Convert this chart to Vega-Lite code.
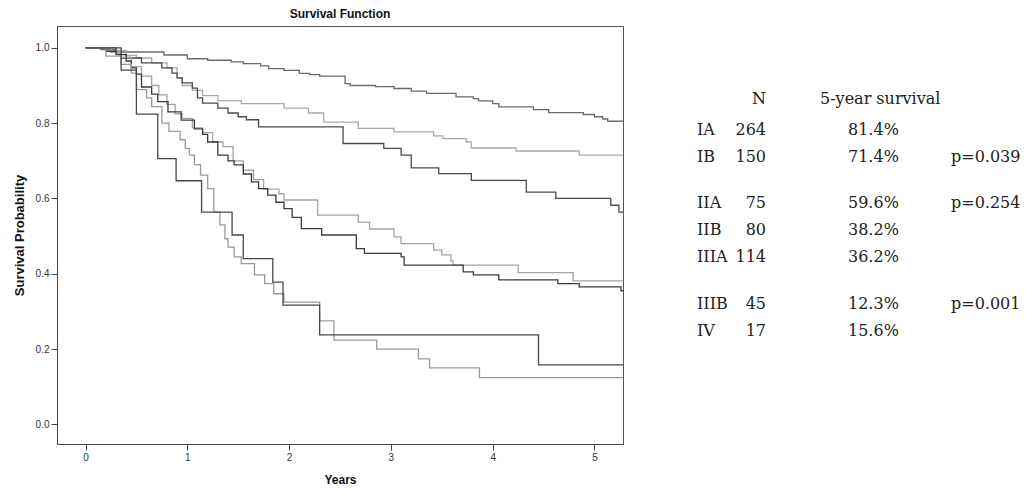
{
  "$schema": "https://vega.github.io/schema/vega-lite/v6.json",
  "padding": {"left": 0, "top": 7, "right": 0, "bottom": 0},
  "background": "white",
  "spacing": 18,
  "config": {"view": {"stroke": "#555", "strokeWidth": 1}, "font": "Liberation Sans"},
  "datasets": {
    "km": [
      {"stage":"IA","t":0,"s":1},{"stage":"IA","t":0.15,"s":0.995},{"stage":"IA","t":0.3,"s":0.989},{"stage":"IA","t":0.77,"s":0.981},{"stage":"IA","t":1.0,"s":0.971},{"stage":"IA","t":1.2,"s":0.967},{"stage":"IA","t":1.43,"s":0.963},{"stage":"IA","t":1.55,"s":0.958},{"stage":"IA","t":1.72,"s":0.952},{"stage":"IA","t":1.8,"s":0.945},{"stage":"IA","t":1.95,"s":0.94},{"stage":"IA","t":2.1,"s":0.932},{"stage":"IA","t":2.2,"s":0.929},{"stage":"IA","t":2.3,"s":0.925},{"stage":"IA","t":2.55,"s":0.905},{"stage":"IA","t":2.6,"s":0.9},{"stage":"IA","t":2.85,"s":0.897},{"stage":"IA","t":3.03,"s":0.892},{"stage":"IA","t":3.2,"s":0.885},{"stage":"IA","t":3.35,"s":0.879},{"stage":"IA","t":3.64,"s":0.87},{"stage":"IA","t":3.81,"s":0.865},{"stage":"IA","t":3.86,"s":0.859},{"stage":"IA","t":4.0,"s":0.852},{"stage":"IA","t":4.06,"s":0.843},{"stage":"IA","t":4.4,"s":0.836},{"stage":"IA","t":4.55,"s":0.828},{"stage":"IA","t":4.89,"s":0.823},{"stage":"IA","t":5.0,"s":0.817},{"stage":"IA","t":5.08,"s":0.811},{"stage":"IA","t":5.13,"s":0.805},{"stage":"IA","t":5.28,"s":0.805},
      {"stage":"IB","t":0,"s":1},{"stage":"IB","t":0.25,"s":0.993},{"stage":"IB","t":0.4,"s":0.98},{"stage":"IB","t":0.5,"s":0.973},{"stage":"IB","t":0.65,"s":0.96},{"stage":"IB","t":0.8,"s":0.947},{"stage":"IB","t":0.9,"s":0.92},{"stage":"IB","t":0.95,"s":0.9},{"stage":"IB","t":1.05,"s":0.887},{"stage":"IB","t":1.15,"s":0.873},{"stage":"IB","t":1.3,"s":0.86},{"stage":"IB","t":1.53,"s":0.852},{"stage":"IB","t":1.95,"s":0.84},{"stage":"IB","t":2.19,"s":0.827},{"stage":"IB","t":2.34,"s":0.803},{"stage":"IB","t":2.68,"s":0.786},{"stage":"IB","t":3.03,"s":0.777},{"stage":"IB","t":3.42,"s":0.766},{"stage":"IB","t":3.51,"s":0.759},{"stage":"IB","t":3.74,"s":0.75},{"stage":"IB","t":3.79,"s":0.734},{"stage":"IB","t":4.23,"s":0.726},{"stage":"IB","t":4.85,"s":0.715},{"stage":"IB","t":5.28,"s":0.715},
      {"stage":"IIA","t":0,"s":1},{"stage":"IIA","t":0.3,"s":0.987},{"stage":"IIA","t":0.35,"s":0.973},{"stage":"IIA","t":0.55,"s":0.96},{"stage":"IIA","t":0.75,"s":0.947},{"stage":"IIA","t":0.85,"s":0.933},{"stage":"IIA","t":0.9,"s":0.92},{"stage":"IIA","t":0.95,"s":0.907},{"stage":"IIA","t":1.05,"s":0.893},{"stage":"IIA","t":1.1,"s":0.867},{"stage":"IIA","t":1.15,"s":0.853},{"stage":"IIA","t":1.3,"s":0.84},{"stage":"IIA","t":1.4,"s":0.827},{"stage":"IIA","t":1.5,"s":0.817},{"stage":"IIA","t":1.58,"s":0.809},{"stage":"IIA","t":1.7,"s":0.79},{"stage":"IIA","t":2.53,"s":0.746},{"stage":"IIA","t":2.93,"s":0.733},{"stage":"IIA","t":3.1,"s":0.715},{"stage":"IIA","t":3.2,"s":0.681},{"stage":"IIA","t":3.47,"s":0.666},{"stage":"IIA","t":3.79,"s":0.648},{"stage":"IIA","t":4.33,"s":0.617},{"stage":"IIA","t":4.62,"s":0.6},{"stage":"IIA","t":5.16,"s":0.582},{"stage":"IIA","t":5.24,"s":0.564},{"stage":"IIA","t":5.28,"s":0.564},
      {"stage":"IIB","t":0,"s":1},{"stage":"IIB","t":0.25,"s":0.988},{"stage":"IIB","t":0.35,"s":0.975},{"stage":"IIB","t":0.45,"s":0.95},{"stage":"IIB","t":0.55,"s":0.925},{"stage":"IIB","t":0.65,"s":0.9},{"stage":"IIB","t":0.72,"s":0.875},{"stage":"IIB","t":0.8,"s":0.85},{"stage":"IIB","t":0.88,"s":0.825},{"stage":"IIB","t":0.95,"s":0.8125},{"stage":"IIB","t":1.05,"s":0.7875},{"stage":"IIB","t":1.15,"s":0.775},{"stage":"IIB","t":1.25,"s":0.75},{"stage":"IIB","t":1.35,"s":0.7375},{"stage":"IIB","t":1.45,"s":0.7},{"stage":"IIB","t":1.55,"s":0.675},{"stage":"IIB","t":1.65,"s":0.65},{"stage":"IIB","t":1.75,"s":0.625},{"stage":"IIB","t":1.9,"s":0.6125},{"stage":"IIB","t":1.95,"s":0.596},{"stage":"IIB","t":2.28,"s":0.556},{"stage":"IIB","t":2.68,"s":0.537},{"stage":"IIB","t":2.79,"s":0.519},{"stage":"IIB","t":3.03,"s":0.498},{"stage":"IIB","t":3.1,"s":0.48},{"stage":"IIB","t":3.42,"s":0.463},{"stage":"IIB","t":3.5,"s":0.45},{"stage":"IIB","t":3.59,"s":0.434},{"stage":"IIB","t":3.61,"s":0.423},{"stage":"IIB","t":4.25,"s":0.403},{"stage":"IIB","t":4.79,"s":0.381},{"stage":"IIB","t":5.28,"s":0.381},
      {"stage":"IIIA","t":0,"s":1},{"stage":"IIIA","t":0.2,"s":0.991},{"stage":"IIIA","t":0.3,"s":0.982},{"stage":"IIIA","t":0.4,"s":0.965},{"stage":"IIIA","t":0.45,"s":0.947},{"stage":"IIIA","t":0.5,"s":0.93},{"stage":"IIIA","t":0.55,"s":0.896},{"stage":"IIIA","t":0.65,"s":0.877},{"stage":"IIIA","t":0.71,"s":0.857},{"stage":"IIIA","t":0.81,"s":0.83},{"stage":"IIIA","t":0.94,"s":0.808},{"stage":"IIIA","t":1.07,"s":0.785},{"stage":"IIIA","t":1.15,"s":0.77},{"stage":"IIIA","t":1.2,"s":0.75},{"stage":"IIIA","t":1.3,"s":0.715},{"stage":"IIIA","t":1.4,"s":0.7},{"stage":"IIIA","t":1.46,"s":0.689},{"stage":"IIIA","t":1.55,"s":0.665},{"stage":"IIIA","t":1.63,"s":0.644},{"stage":"IIIA","t":1.7,"s":0.626},{"stage":"IIIA","t":1.79,"s":0.609},{"stage":"IIIA","t":1.87,"s":0.59},{"stage":"IIIA","t":1.95,"s":0.573},{"stage":"IIIA","t":2.03,"s":0.55},{"stage":"IIIA","t":2.12,"s":0.52},{"stage":"IIIA","t":2.32,"s":0.503},{"stage":"IIIA","t":2.66,"s":0.467},{"stage":"IIIA","t":2.74,"s":0.454},{"stage":"IIIA","t":3.1,"s":0.445},{"stage":"IIIA","t":3.13,"s":0.423},{"stage":"IIIA","t":3.71,"s":0.405},{"stage":"IIIA","t":3.81,"s":0.397},{"stage":"IIIA","t":4.06,"s":0.384},{"stage":"IIIA","t":4.64,"s":0.374},{"stage":"IIIA","t":4.85,"s":0.365},{"stage":"IIIA","t":5.26,"s":0.355},{"stage":"IIIA","t":5.28,"s":0.355},
      {"stage":"IIIB","t":0,"s":1},{"stage":"IIIB","t":0.2,"s":0.978},{"stage":"IIIB","t":0.35,"s":0.956},{"stage":"IIIB","t":0.45,"s":0.933},{"stage":"IIIB","t":0.5,"s":0.889},{"stage":"IIIB","t":0.6,"s":0.867},{"stage":"IIIB","t":0.65,"s":0.844},{"stage":"IIIB","t":0.75,"s":0.8},{"stage":"IIIB","t":0.82,"s":0.778},{"stage":"IIIB","t":0.93,"s":0.756},{"stage":"IIIB","t":0.98,"s":0.733},{"stage":"IIIB","t":1.02,"s":0.715},{"stage":"IIIB","t":1.07,"s":0.69},{"stage":"IIIB","t":1.13,"s":0.662},{"stage":"IIIB","t":1.2,"s":0.626},{"stage":"IIIB","t":1.26,"s":0.564},{"stage":"IIIB","t":1.32,"s":0.53},{"stage":"IIIB","t":1.37,"s":0.493},{"stage":"IIIB","t":1.4,"s":0.471},{"stage":"IIIB","t":1.46,"s":0.445},{"stage":"IIIB","t":1.53,"s":0.427},{"stage":"IIIB","t":1.66,"s":0.397},{"stage":"IIIB","t":1.76,"s":0.374},{"stage":"IIIB","t":1.85,"s":0.347},{"stage":"IIIB","t":1.95,"s":0.325},{"stage":"IIIB","t":2.3,"s":0.275},{"stage":"IIIB","t":2.44,"s":0.224},{"stage":"IIIB","t":2.86,"s":0.2},{"stage":"IIIB","t":3.27,"s":0.174},{"stage":"IIIB","t":3.38,"s":0.15},{"stage":"IIIB","t":3.87,"s":0.124},{"stage":"IIIB","t":5.28,"s":0.124},
      {"stage":"IV","t":0,"s":1},{"stage":"IV","t":0.35,"s":0.941},{"stage":"IV","t":0.5,"s":0.824},{"stage":"IV","t":0.71,"s":0.706},{"stage":"IV","t":0.89,"s":0.647},{"stage":"IV","t":1.14,"s":0.564},{"stage":"IV","t":1.44,"s":0.503},{"stage":"IV","t":1.55,"s":0.44},{"stage":"IV","t":1.84,"s":0.378},{"stage":"IV","t":1.94,"s":0.317},{"stage":"IV","t":2.3,"s":0.238},{"stage":"IV","t":4.45,"s":0.158},{"stage":"IV","t":5.28,"s":0.158}
    ],
    "table": [
      {"line":0,"col":1,"text":"N"},{"line":0,"col":2,"text":"5-year survival"},
      {"line":1,"col":0,"text":"IA"},{"line":1,"col":1,"text":"264"},{"line":1,"col":3,"text":"81.4%"},
      {"line":2,"col":0,"text":"IB"},{"line":2,"col":1,"text":"150"},{"line":2,"col":3,"text":"71.4%"},{"line":2,"col":4,"text":"p=0.039"},
      {"line":4,"col":0,"text":"IIA"},{"line":4,"col":1,"text":"75"},{"line":4,"col":3,"text":"59.6%"},{"line":4,"col":4,"text":"p=0.254"},
      {"line":5,"col":0,"text":"IIB"},{"line":5,"col":1,"text":"80"},{"line":5,"col":3,"text":"38.2%"},
      {"line":6,"col":0,"text":"IIIA"},{"line":6,"col":1,"text":"114"},{"line":6,"col":3,"text":"36.2%"},
      {"line":8,"col":0,"text":"IIIB"},{"line":8,"col":1,"text":"45"},{"line":8,"col":3,"text":"12.3%"},{"line":8,"col":4,"text":"p=0.001"},
      {"line":9,"col":0,"text":"IV"},{"line":9,"col":1,"text":"17"},{"line":9,"col":3,"text":"15.6%"}
    ]
  },
  "hconcat": [
    {
      "width": 566,
      "height": 418,
      "title": {"text": "Survival Function", "fontSize": 12, "fontWeight": "bold", "font": "Liberation Sans", "color": "#111", "offset": 5, "anchor": "middle"},
      "data": {"name": "km"},
      "mark": {"type": "line", "interpolate": "step-after", "strokeWidth": 1.3},
      "encoding": {
        "x": {
          "field": "t", "type": "quantitative",
          "scale": {"domain": [-0.28, 5.28], "nice": false, "zero": false},
          "axis": {"title": "Years", "values": [0, 1, 2, 3, 4, 5], "format": "d", "grid": false,
                   "labelFontSize": 10, "labelColor": "#333", "labelPadding": 2, "tickSize": 6, "tickColor": "#444",
                   "domainColor": "#444", "titleFontSize": 12, "titleFontWeight": "bold", "titleColor": "#111", "titlePadding": 12}
        },
        "y": {
          "field": "s", "type": "quantitative",
          "scale": {"domain": [-0.052, 1.058], "nice": false, "zero": false},
          "axis": {"title": "Survival Probability", "values": [0, 0.2, 0.4, 0.6, 0.8, 1.0], "format": ".1f", "grid": false,
                   "labelFontSize": 10, "labelColor": "#333", "labelPadding": 2, "tickSize": 6, "tickColor": "#444",
                   "domainColor": "#444", "titleFontSize": 13, "titleFontWeight": "bold", "titleColor": "#111",
                   "titleX": -38, "titleY": 209, "titleBaseline": "middle", "minExtent": 56, "maxExtent": 56}
        },
        "color": {
          "field": "stage", "type": "nominal",
          "scale": {"domain": ["IA", "IB", "IIA", "IIB", "IIIA", "IIIB", "IV"],
                    "range": ["#6a6a6a", "#a9a9a9", "#4a4a4a", "#a4a4a4", "#3a3a3a", "#9a9a9a", "#484848"]},
          "legend": null
        }
      }
    },
    {
      "width": 395,
      "height": 418,
      "view": {"stroke": null},
      "data": {"name": "table"},
      "encoding": {
        "x": {"field": "col", "type": "quantitative", "scale": {"domain": [0, 1, 2, 3, 4], "range": [52, 121, 175, 203, 306]}, "axis": null},
        "y": {"field": "line", "type": "quantitative", "scale": {"domain": [0, 1, 2, 4, 5, 6, 8, 9], "range": [73, 104, 131, 177, 204, 231, 278, 305]}, "axis": null},
        "text": {"field": "text", "type": "nominal"}
      },
      "layer": [
        {"transform": [{"filter": "datum.col == 0 || datum.col == 2 || datum.col == 3 || datum.col == 4"}],
         "mark": {"type": "text", "align": "left", "baseline": "middle", "font": "DejaVu Serif", "fontSize": 16, "color": "#222"}},
        {"transform": [{"filter": "datum.col == 1"}],
         "mark": {"type": "text", "align": "right", "baseline": "middle", "font": "DejaVu Serif", "fontSize": 16, "color": "#222"}}
      ]
    }
  ]
}
